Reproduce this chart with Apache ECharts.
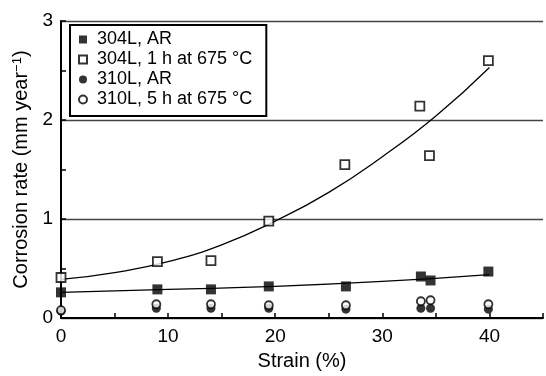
<!DOCTYPE html>
<html>
<head>
<meta charset="utf-8">
<script src="https://cdn.jsdelivr.net/npm/echarts@6/dist/echarts.min.js"></script>
<style>
  html, body { margin: 0; padding: 0; background: #fff; }
  #chart { width: 546px; height: 376px; }
</style>
</head>
<body>
<div id="chart"></div>
<script>
// Corrosion rate vs. strain for 304L and 310L stainless steels
const seriesNames = ['304L, AR', '304L, 1 h at 675 °C', '310L, AR', '310L, 5 h at 675 °C'];

// measured points: [strain %, corrosion rate mm/year]
const ar304 = [[0, 0.26], [9, 0.29], [14, 0.29], [19.4, 0.32], [26.6, 0.32], [33.6, 0.42], [34.5, 0.38], [39.9, 0.47]];
const ht304 = [[0, 0.41], [9, 0.57], [14, 0.58], [19.4, 0.98], [26.5, 1.55], [33.5, 2.14], [34.4, 1.64], [39.9, 2.60]];
const ar310 = [[0, 0.07], [8.9, 0.10], [14, 0.10], [19.4, 0.10], [26.6, 0.09], [33.6, 0.10], [34.5, 0.10], [39.9, 0.09]];
const ht310 = [[0, 0.08], [8.9, 0.14], [14, 0.14], [19.4, 0.13], [26.6, 0.13], [33.6, 0.17], [34.5, 0.18], [39.9, 0.14]];

// trend curves drawn through the data
const fitHt304 = [[0, 0.39], [5, 0.46], [10, 0.57], [15, 0.74], [20, 0.98], [25, 1.27], [30, 1.63], [35, 2.04], [40, 2.53]];
const fitAr304 = [[0, 0.26], [10, 0.29], [20, 0.32], [30, 0.37], [40, 0.44]];

const xTickLabels = ['0', '10', '20', '30', '40'];
const yTickLabels = ['0', '1', '2', '3'];

const FONT = 'Liberation Sans, Arial, sans-serif';
const chart = echarts.init(document.getElementById('chart'), null, { renderer: 'canvas' });

const filled = { color: '#000', borderColor: '#000', borderWidth: 0 };
const hollow = { color: '#fff', borderColor: '#000', borderWidth: 1.8 };

chart.setOption({
  animation: false,
  backgroundColor: '#fff',
  grid: { left: 61, top: 21, right: -10, bottom: 56, containLabel: false },
  legend: {
    data: seriesNames,
    orient: 'vertical',
    left: 70,
    top: 25,
    padding: [5, 14, 7, 8],
    borderColor: '#000',
    borderWidth: 2,
    backgroundColor: '#fff',
    itemWidth: 8,
    itemHeight: 8,
    itemGap: 1,
    textStyle: { fontFamily: FONT, fontSize: 18, color: '#000', lineHeight: 19, padding: [0, 0, 0, 5] }
  },
  xAxis: {
    type: 'value',
    min: 0,
    max: 45,
    interval: 5,
    name: 'Strain (%)',
    nameLocation: 'middle',
    nameGap: 32,
    nameTextStyle: { fontFamily: FONT, fontSize: 20, color: '#000' },
    axisLine: { show: true, lineStyle: { color: '#000', width: 2 } },
    axisTick: { show: true, inside: true, length: 5, lineStyle: { color: '#000', width: 1.5 } },
    axisLabel: {
      margin: 9,
      fontFamily: FONT, fontSize: 19, color: '#000',
      formatter: v => (xTickLabels.indexOf(String(v)) >= 0 ? String(v) : '')
    },
    splitLine: { show: false }
  },
  yAxis: {
    type: 'value',
    min: 0,
    max: 3,
    interval: 1,
    name: 'Corrosion rate (mm year{sup|−1})',
    nameLocation: 'middle',
    nameGap: 28,
    nameRotate: 90,
    nameTextStyle: {
      fontFamily: FONT, fontSize: 20, color: '#000',
      rich: { sup: { fontFamily: FONT, fontSize: 13, color: '#000', verticalAlign: 'top', padding: [0, 0, 9, 0] } }
    },
    axisLine: { show: true, lineStyle: { color: '#000', width: 2 } },
    axisTick: { show: true, inside: true, length: 5, lineStyle: { color: '#000', width: 1.5 } },
    minorTick: { show: true, splitNumber: 2, length: 5, lineStyle: { color: '#000', width: 1.5 } },
    axisLabel: {
      margin: 8,
      fontFamily: FONT, fontSize: 19, color: '#000',
      formatter: v => (yTickLabels.indexOf(String(v)) >= 0 ? String(v) : '')
    },
    splitLine: { show: true, lineStyle: { color: '#444', width: 1.3 } }
  },
  series: [
    {
      type: 'line', data: fitHt304, smooth: true, showSymbol: false, silent: true,
      lineStyle: { color: '#000', width: 1.3 }, z: 1
    },
    {
      type: 'line', data: fitAr304, smooth: true, showSymbol: false, silent: true,
      lineStyle: { color: '#000', width: 1.3 }, z: 1
    },
    { name: seriesNames[0], type: 'scatter', symbol: 'rect', symbolSize: 10, data: ar304, itemStyle: filled, z: 3 },
    { name: seriesNames[1], type: 'scatter', symbol: 'rect', symbolSize: 9, data: ht304, itemStyle: hollow, z: 3 },
    { name: seriesNames[2], type: 'scatter', symbol: 'circle', symbolSize: 9, data: ar310, itemStyle: filled, z: 2 },
    { name: seriesNames[3], type: 'scatter', symbol: 'circle', symbolSize: 8, data: ht310, itemStyle: hollow, z: 3 }
  ]
});
</script>
</body>
</html>
